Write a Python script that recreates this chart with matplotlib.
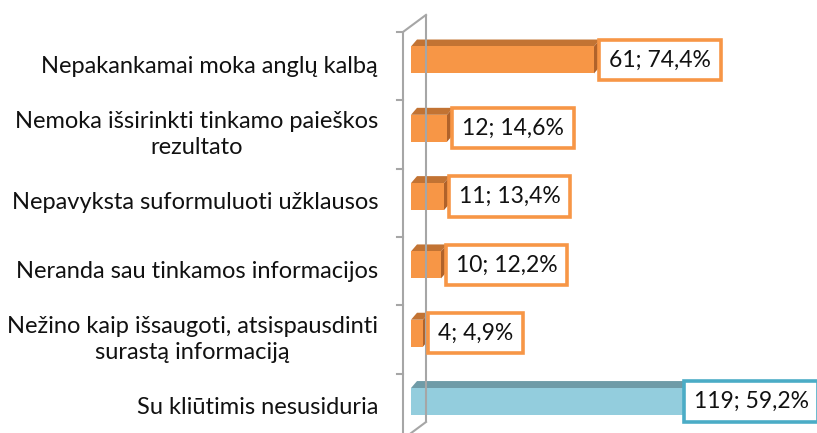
import matplotlib
matplotlib.use("Agg")
import matplotlib.pyplot as plt
from matplotlib.patches import Rectangle, Polygon

### DATA ###
categories = [
    "Nepakankamai moka anglų kalbą",
    "Nemoka išsirinkti tinkamo paieškos\nrezultato",
    "Nepavyksta suformuluoti užklausos",
    "Neranda sau tinkamos informacijos",
    "Nežino kaip išsaugoti, atsispausdinti\nsurastą informaciją",
    "Su kliūtimis nesusiduria",
]
counts = [61, 12, 11, 10, 4, 119]
percents = ["74,4%", "14,6%", "13,4%", "12,2%", "4,9%", "59,2%"]
############

FRONT = {"o": "#F79646", "b": "#93CDDD"}
TOP = {"o": "#C27333", "b": "#6F9BA7"}
SIDE = {"o": "#B0622A", "b": "#5F8C98"}
EDGE = {"o": "#F79646", "b": "#4BACC6"}
kinds = ["o", "o", "o", "o", "o", "b"]

plt.rcParams["font.family"] = ["Lato", "DejaVu Sans"]
FS = 17

fig = plt.figure(figsize=(8.17, 4.33), dpi=100)
ax = fig.add_axes([0, 0, 1, 1])
ax.set_xlim(-137, 135.33)
ax.set_ylim(5.461, -0.878)
ax.axis("off")

h = 0.395   # bar thickness (category units)
dx = 2.0    # 3d depth, x
dy = 0.102  # 3d depth, y

# wall / axis lines
wall_c = "#A6A6A6"
fx, bx = -2.67, 5.0
ftop, btop = -0.41, -0.66
fbot, bbot = 5.55, 5.30
ax.plot([fx, fx], [ftop, fbot], color=wall_c, lw=1.5, solid_capstyle="butt")
ax.plot([bx, bx], [btop, bbot], color=wall_c, lw=1.5, solid_capstyle="butt")
ax.plot([fx, bx], [ftop, btop], color=wall_c, lw=1.5)
ax.plot([fx, bx], [fbot, bbot], color=wall_c, lw=1.5)
for i in range(len(categories) + 1):
    ax.plot([fx - 2, fx], [ftop + i, ftop + i], color=wall_c, lw=1.5)

for i, (cat, v, p, k) in enumerate(zip(categories, counts, percents, kinds)):
    y0, y1 = i - h / 2, i + h / 2
    ax.add_patch(Polygon([(0, y0), (v, y0), (v + dx, y0 - dy), (dx, y0 - dy)],
                         closed=True, facecolor=TOP[k], edgecolor="none"))
    ax.add_patch(Polygon([(v, y0), (v + dx, y0 - dy), (v + dx, y1 - dy), (v, y1)],
                         closed=True, facecolor=SIDE[k], edgecolor="none"))
    ax.add_patch(Rectangle((0, y0), v, h, facecolor=FRONT[k], edgecolor="none"))

    ax.text(-11, i + 0.09, cat, ha="right", va="center", fontsize=FS,
            color="#111111", multialignment="center", linespacing=1.28)

    lbl = f"{v}; {p}"
    box = dict(boxstyle="square,pad=0.42", facecolor="white",
               edgecolor=EDGE[k], linewidth=2.6)
    if v + dx + 45 > ax.get_xlim()[1]:
        # label would run off the chart, pin it to the right edge
        ax.annotate(lbl, xy=(0.99, i), xycoords=("axes fraction", "data"),
                    ha="right", va="center", fontsize=16.5, color="#111111",
                    bbox=box)
    else:
        ax.annotate(lbl, xy=(v + dx, i), xytext=(6.5, 0), textcoords="offset points",
                    ha="left", va="center", fontsize=16.5, color="#111111",
                    bbox=box)

fig.savefig("out.png", dpi=100)
